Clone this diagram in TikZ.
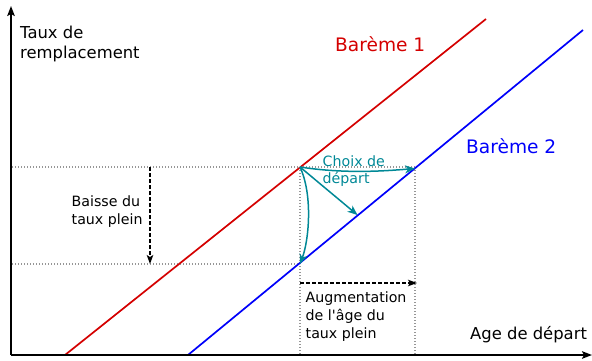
\documentclass[tikz,border=0pt]{standalone}
\usepackage{fontspec}
\setmainfont{DejaVu Sans}[Ligatures=TeXOff]
\usetikzlibrary{arrows.meta}
\definecolor{bred}{RGB}{212,0,0}
\definecolor{bblue}{RGB}{0,0,250}
\definecolor{tealc}{RGB}{0,136,150}
\definecolor{guidegray}{RGB}{150,150,150}
\begin{document}
\begin{tikzpicture}[x=1pt,y=-1pt,
  axis/.style={line width=1.8pt, -{Stealth[length=10pt,width=7.5pt,inset=2pt]}},
  guide/.style={guidegray, line width=1.1pt, dash pattern=on 1.2pt off 1.8pt},
  movearrow/.style={black, line width=1.2pt, dash pattern=on 4pt off 2pt, -{Stealth[length=9pt,width=6.5pt,inset=2pt]}},
  choice/.style={tealc, line width=1.5pt, -{Stealth[length=10pt,width=8pt,inset=3pt]}},
  bareme/.style={line width=1.7pt},
  smalltxt/.style={font=\fontsize{14.2}{17.3}\selectfont, align=left, inner sep=0pt},
  midtxt/.style={font=\fontsize{16.4}{20}\selectfont, align=left, inner sep=0pt},
  bigtxt/.style={font=\fontsize{18.6}{22}\selectfont, inner sep=0pt}
]
\useasboundingbox (0,0) rectangle (592,361);
% coordinates
\coordinate (O) at (11,355);
\coordinate (Ytop) at (11,6);
\coordinate (Xend) at (592,355);
\coordinate (R0) at (65,355);
\coordinate (R1) at (486,19);
\coordinate (B0) at (188,355);
\coordinate (B1) at (583,30);
\coordinate (A) at (300,167);
\coordinate (Bh) at (415,168.5);
\coordinate (Bm) at (357.5,215);
\coordinate (Bd) at (300,264);
\coordinate (L1) at (12,167);
\coordinate (L2) at (12,264);
\coordinate (Ax) at (300,355);
\coordinate (Bx) at (415,355);
\coordinate (Bt) at (415,167);
\coordinate (D1) at (150,167);
\coordinate (D2) at (150,264);
\coordinate (H1) at (300,283);
\coordinate (H2) at (417,283);
% guides
\draw[guide] (L1) -- (Bt);
\draw[guide] (L2) -- (Bd);
\draw[guide] (A) -- (Ax);
\draw[guide] (Bt) -- (Bx);
% baremes
\draw[bareme, bred] (R0) -- (R1);
\draw[bareme, bblue] (B0) -- (B1);
% axes
\draw[axis] (O) -- (Ytop);
\draw[axis] (O) -- (Xend);
% dashed shifts
\draw[movearrow] (D1) -- (D2);
\draw[movearrow] (H1) -- (H2);
% choice arrows
\draw[choice] (A) .. controls (345,174) and (385,171) .. (Bh);
\draw[choice] (A) -- (Bm);
\draw[choice] (A) .. controls (313,195) and (309,240) .. (Bd);
% texts
\node[midtxt, anchor=north west] (ylab) at (20,25.5) {Taux de\\remplacement};
\node[midtxt, anchor=base west] (xlab) at (470,339) {Age de départ};
\node[bigtxt, text=bred, anchor=base west] (b1) at (335,52) {Barème 1};
\node[bigtxt, text=bblue, anchor=base west] (b2) at (466,153) {Barème 2};
\node[smalltxt, text=tealc, anchor=north west] (ch) at (322.5,155.2) {Choix de\\départ};
\node[smalltxt, anchor=north west] (bt) at (71.5,195.9) {Baisse du\\taux plein};
\node[smalltxt, anchor=north west, font=\fontsize{14.2}{18}\selectfont] (ag) at (305.5,291.4) {Augmentation\\de l'âge du\\taux plein};
\end{tikzpicture}
\end{document}
